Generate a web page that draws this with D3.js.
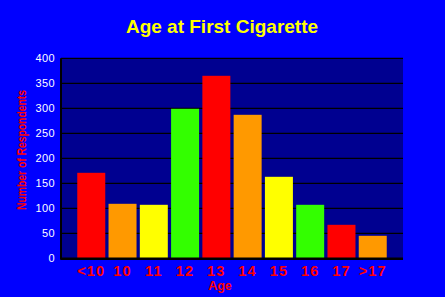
<!DOCTYPE html>
<html>
<head>
<meta charset="utf-8">
<script src="https://cdn.jsdelivr.net/npm/d3@7"></script>
<style>
  body { margin: 0; background: #0000ff; }
  svg { display: block; }
</style>
</head>
<body>
<svg id="main" width="445" height="297"></svg>
<script>
const width = 445;
const height = 297;
const position = { left: 61, top: 58.3, right: 42, bottom: 38.7 };
const innerWidth = width - position.left - position.right;
const innerHeight = height - position.top - position.bottom;

const ages = ['<10', '10', '11', '12', '13', '14', '15', '16', '17', '>17'];
const respondents = [171, 109, 107, 299, 365, 287, 163, 107, 67, 45];
const barColors = ['#ff0000', '#ff9900', '#ffff00', '#33ff00', '#ff0000', '#ff9900', '#ffff00', '#33ff00', '#ff0000', '#ff9900'];
const yTicks = [0, 50, 100, 150, 200, 250, 300, 350, 400];

const svg = d3.select('#main');
svg.append('rect').attr('width', width).attr('height', height).attr('fill', '#0000ff');

const mainGroup = svg
    .append('g')
    .attr('transform', `translate(${position.left}, ${position.top})`);

const x = d3.scaleBand()
    .domain(ages)
    .range([0, innerWidth])
    .paddingInner(0.105)
    .paddingOuter(0.52);

const y = d3.scaleLinear().domain([0, 400]).range([innerHeight, 0]);

// plot background
mainGroup.append('rect')
    .attr('width', innerWidth)
    .attr('height', innerHeight)
    .attr('fill', '#000090');

// grid lines
mainGroup.selectAll('.grid')
    .data(yTicks.filter(d => d > 0))
    .join('line')
    .attr('class', 'grid')
    .attr('x1', 0)
    .attr('x2', innerWidth)
    .attr('y1', d => y(d))
    .attr('y2', d => y(d))
    .attr('stroke', '#000')
    .attr('stroke-width', 1.2);

// bars
mainGroup.selectAll('.bar')
    .data(ages)
    .join('rect')
    .attr('class', 'bar')
    .attr('x', d => x(d))
    .attr('width', x.bandwidth())
    .attr('y', (d, i) => y(respondents[i]))
    .attr('height', (d, i) => innerHeight - y(respondents[i]))
    .attr('fill', (d, i) => barColors[i]);

// axis lines
mainGroup.append('line')
    .attr('x1', 0).attr('x2', 0)
    .attr('y1', 0).attr('y2', innerHeight + 1.5)
    .attr('stroke', '#000').attr('stroke-width', 2);
mainGroup.append('line')
    .attr('x1', 0).attr('x2', innerWidth)
    .attr('y1', innerHeight + 0.5).attr('y2', innerHeight + 0.5)
    .attr('stroke', '#000').attr('stroke-width', 2.5);

// y tick labels
mainGroup.selectAll('.ytick')
    .data(yTicks)
    .join('text')
    .attr('class', 'ytick')
    .attr('x', -6)
    .attr('y', d => y(d))
    .attr('dy', '0.36em')
    .attr('text-anchor', 'end')
    .attr('fill', '#fff')
    .attr('font-family', 'Liberation Sans, Arial, sans-serif')
    .attr('font-size', 11)
    .attr('letter-spacing', 0.4)
    .text(d => d);

// x tick labels
mainGroup.selectAll('.xtick')
    .data(ages)
    .join('text')
    .attr('class', 'xtick')
    .attr('x', d => x(d) + x.bandwidth() / 2)
    .attr('y', innerHeight + 18)
    .attr('text-anchor', 'middle')
    .attr('fill', '#ff0000')
    .attr('font-family', 'Liberation Sans, Arial, sans-serif')
    .attr('font-weight', 'bold')
    .attr('font-size', 14.5)
    .attr('letter-spacing', 1.2)
    .text(d => d);

// axis titles
svg.append('text')
    .attr('x', 220)
    .attr('y', 290)
    .attr('text-anchor', 'middle')
    .attr('fill', '#ff0000')
    .attr('font-family', 'Liberation Sans, Arial, sans-serif')
    .attr('font-weight', 'bold')
    .attr('font-size', 12.5)
    .text('Age');

svg.append('text')
    .attr('transform', 'translate(26, 150) rotate(-90)')
    .attr('text-anchor', 'middle')
    .attr('fill', '#ff0000')
    .attr('font-family', 'Liberation Sans Narrow, Liberation Sans, Arial, sans-serif')
    .attr('font-weight', 'bold')
    .attr('font-size', 12)
    .attr('textLength', 120)
    .attr('lengthAdjust', 'spacingAndGlyphs')
    .text('Number of Respondents');

// title
svg.append('text')
    .attr('x', 222)
    .attr('y', 33)
    .attr('text-anchor', 'middle')
    .attr('fill', '#ffff00')
    .attr('font-family', 'Liberation Sans, Arial, sans-serif')
    .attr('font-weight', 'bold')
    .attr('font-size', 19)
    .text('Age at First Cigarette');
</script>
</body>
</html>
